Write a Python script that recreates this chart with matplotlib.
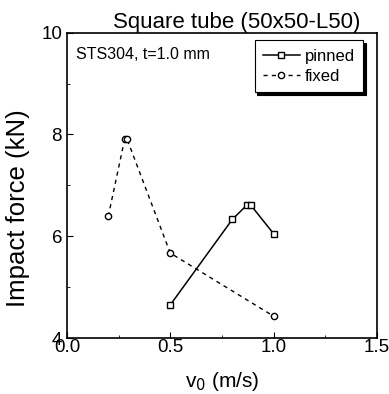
import matplotlib.pyplot as plt
from matplotlib.ticker import MultipleLocator

plt.rcParams['font.family'] = ['Liberation Sans', 'DejaVu Sans']

# data
v_pinned = [0.5, 0.8, 0.87, 0.89, 1.0]
f_pinned = [4.65, 6.33, 6.61, 6.61, 6.05]
v_fixed = [0.2, 0.28, 0.29, 0.5, 1.0]
f_fixed = [6.39, 7.92, 7.92, 5.67, 4.43]

fig = plt.figure(figsize=(3.89, 3.94), dpi=100)
ax = fig.add_axes([0.172, 0.142, 0.797, 0.775])

ax.plot(v_pinned, f_pinned, 'k-', marker='s', mfc='white', mec='k', ms=4.5, lw=1.1, label='pinned')
ax.plot(v_fixed, f_fixed, 'k--', marker='o', mfc='white', mec='k', ms=4.5, lw=1.0,
        dashes=(3, 3), label='fixed')

ax.set_xlim(0, 1.5)
ax.set_ylim(4, 10)
ax.xaxis.set_major_locator(MultipleLocator(0.5))
ax.xaxis.set_minor_locator(MultipleLocator(0.25))
ax.yaxis.set_major_locator(MultipleLocator(2))
ax.yaxis.set_minor_locator(MultipleLocator(1))
ax.xaxis.set_major_formatter(plt.FormatStrFormatter('%.1f'))
ax.tick_params(which='both', direction='in', labelsize=13.5)
ax.tick_params(which='major', length=4)
ax.tick_params(which='minor', length=2)
ax.tick_params(axis='x', pad=1)
for s in ax.spines.values():
    s.set_linewidth(1.2)

ax.set_xlabel('v$_0$ (m/s)', fontsize=15, labelpad=10)
ax.set_ylabel('Impact force (kN)', fontsize=18.5)
ax.yaxis.set_label_coords(-0.12, 0.424)
ax.set_title('Square tube (50x50-L50)', fontsize=16, x=0.549, pad=2)
ax.text(0.03, 0.93, 'STS304, t=1.0 mm', transform=ax.transAxes, fontsize=11.5, va='center')

leg = ax.legend(loc='upper right', fontsize=12, frameon=True, fancybox=False,
                shadow={'color': 'black', 'alpha': 1},
                handlelength=2.2, handletextpad=0.3, borderpad=0.5, labelspacing=0.3,
                borderaxespad=0, bbox_to_anchor=(0.955, 0.975))
leg.get_frame().set_edgecolor('k')
leg.get_frame().set_linewidth(0.8)
leg.set_zorder(5)

plt.savefig('out.png', dpi=100)
